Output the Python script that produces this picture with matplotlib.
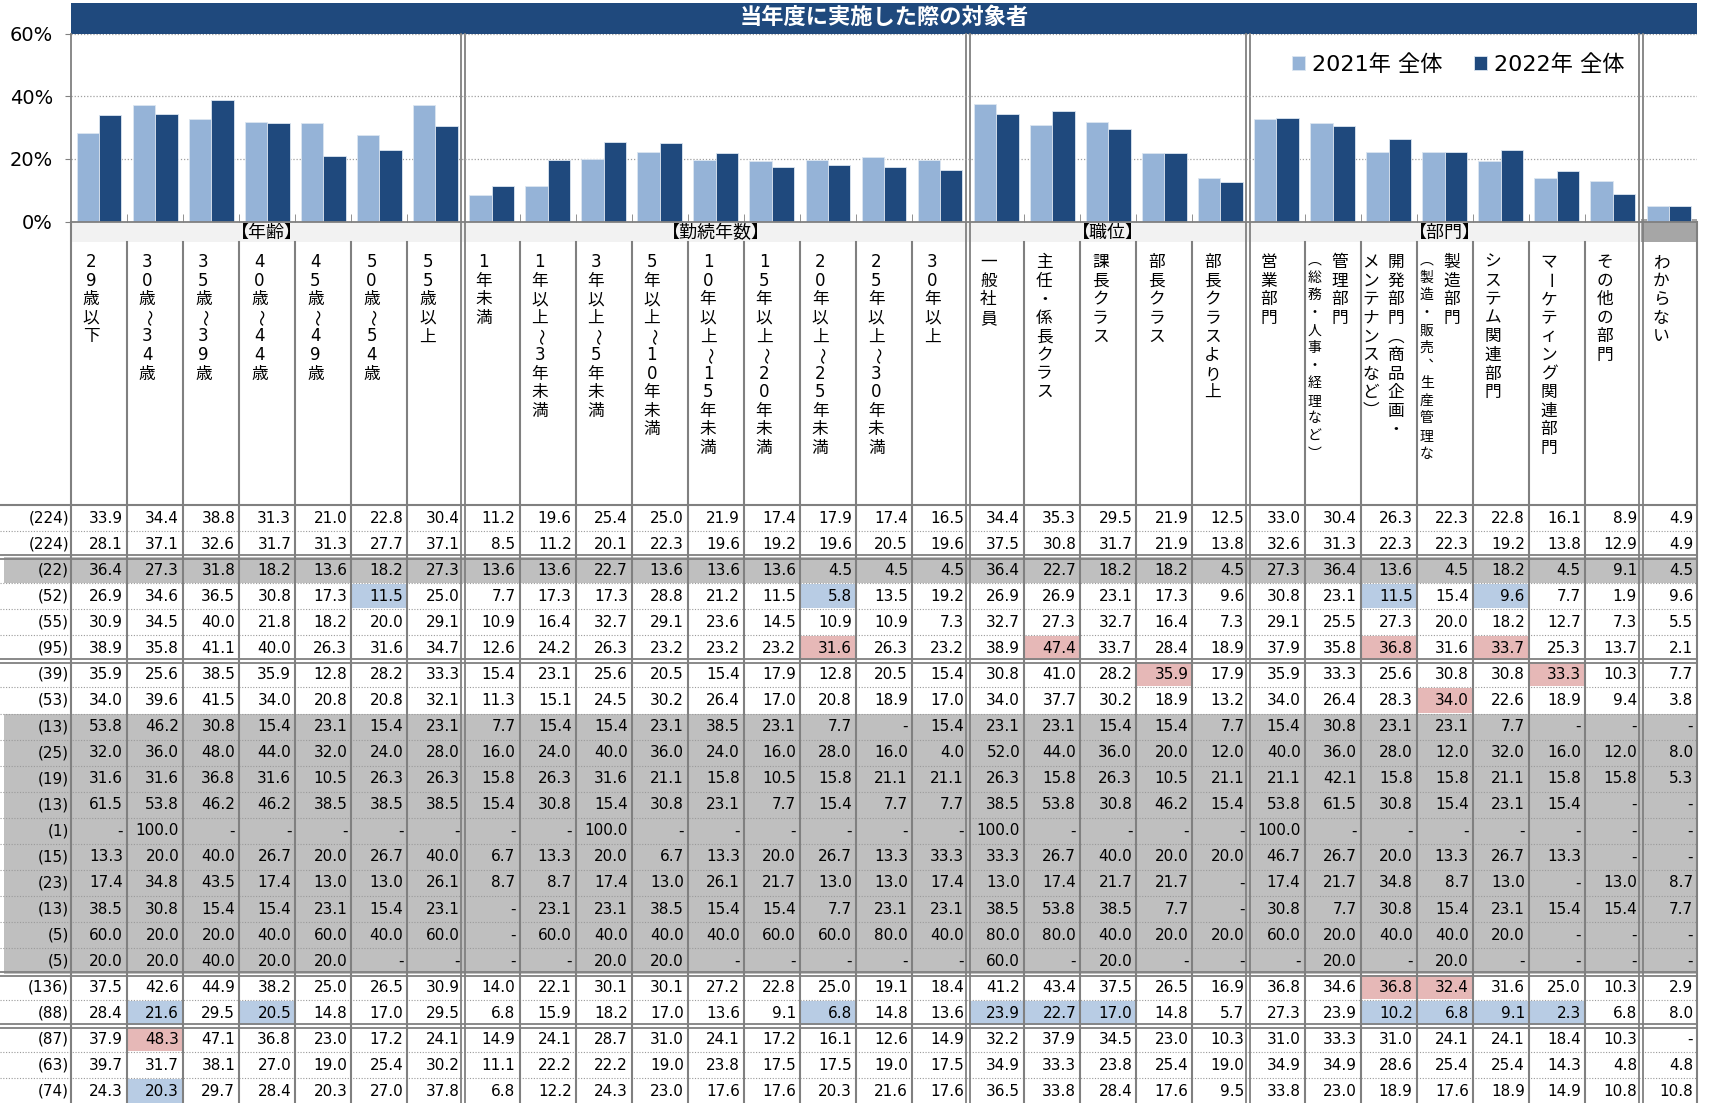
"""当年度に実施した際の対象者: bars on top, cross table below"""

import numpy as np
import matplotlib.pyplot as plt
from matplotlib.patches import Rectangle

plt.rcParams['font.family'] = ['DejaVu Sans', 'Noto Sans CJK JP']

_ = None  # shown as "-" in the table

title = '当年度に実施した際の対象者'
group_names = ['【年齢】', '【勤続年数】', '【職位】', '【部門】', '']
group_sizes = [7, 9, 5, 7, 1]
col_labels = [
    ['29歳以下'], ['30歳～34歳'], ['35歳～39歳'], ['40歳～44歳'], ['45歳～49歳'],
    ['50歳～54歳'], ['55歳以上'],
    ['1年未満'], ['1年以上～3年未満'], ['3年以上～5年未満'], ['5年以上～10年未満'],
    ['10年以上～15年未満'], ['15年以上～20年未満'], ['20年以上～25年未満'],
    ['25年以上～30年未満'], ['30年以上'],
    ['一般社員'], ['主任・係長クラス'], ['課長クラス'], ['部長クラス'], ['部長クラスより上'],
    ['営業部門'], ['管理部門', '（総務・人事・経理など）'], ['開発部門（商品企画・', 'メンテナンスなど）'],
    ['製造部門', '（製造・販売、生産管理な'], ['システム関連部門'], ['マーケティング関連部門'],
    ['その他の部門'],
    ['わからない'],
]
legend_labels = ['2021年 全体', '2022年 全体']

pct_2022 = [33.9, 34.4, 38.8, 31.3, 21.0, 22.8, 30.4, 11.2, 19.6, 25.4, 25.0, 21.9, 17.4, 17.9, 17.4,
            16.5, 34.4, 35.3, 29.5, 21.9, 12.5, 33.0, 30.4, 26.3, 22.3, 22.8, 16.1, 8.9, 4.9]
pct_2021 = [28.1, 37.1, 32.6, 31.7, 31.3, 27.7, 37.1, 8.5, 11.2, 20.1, 22.3, 19.6, 19.2, 19.6, 20.5,
            19.6, 37.5, 30.8, 31.7, 21.9, 13.8, 32.6, 31.3, 22.3, 22.3, 19.2, 13.8, 12.9, 4.9]

n_labels = ['(224)', '(224)', '(22)', '(52)', '(55)', '(95)', '(39)', '(53)', '(13)', '(25)', '(19)',
            '(13)', '(1)', '(15)', '(23)', '(13)', '(5)', '(5)', '(136)', '(88)', '(87)', '(63)', '(74)']

table_rows = [
    pct_2022,
    pct_2021,
    [36.4, 27.3, 31.8, 18.2, 13.6, 18.2, 27.3, 13.6, 13.6, 22.7, 13.6, 13.6, 13.6, 4.5, 4.5, 4.5,
     36.4, 22.7, 18.2, 18.2, 4.5, 27.3, 36.4, 13.6, 4.5, 18.2, 4.5, 9.1, 4.5],
    [26.9, 34.6, 36.5, 30.8, 17.3, 11.5, 25.0, 7.7, 17.3, 17.3, 28.8, 21.2, 11.5, 5.8, 13.5, 19.2,
     26.9, 26.9, 23.1, 17.3, 9.6, 30.8, 23.1, 11.5, 15.4, 9.6, 7.7, 1.9, 9.6],
    [30.9, 34.5, 40.0, 21.8, 18.2, 20.0, 29.1, 10.9, 16.4, 32.7, 29.1, 23.6, 14.5, 10.9, 10.9, 7.3,
     32.7, 27.3, 32.7, 16.4, 7.3, 29.1, 25.5, 27.3, 20.0, 18.2, 12.7, 7.3, 5.5],
    [38.9, 35.8, 41.1, 40.0, 26.3, 31.6, 34.7, 12.6, 24.2, 26.3, 23.2, 23.2, 23.2, 31.6, 26.3, 23.2,
     38.9, 47.4, 33.7, 28.4, 18.9, 37.9, 35.8, 36.8, 31.6, 33.7, 25.3, 13.7, 2.1],
    [35.9, 25.6, 38.5, 35.9, 12.8, 28.2, 33.3, 15.4, 23.1, 25.6, 20.5, 15.4, 17.9, 12.8, 20.5, 15.4,
     30.8, 41.0, 28.2, 35.9, 17.9, 35.9, 33.3, 25.6, 30.8, 30.8, 33.3, 10.3, 7.7],
    [34.0, 39.6, 41.5, 34.0, 20.8, 20.8, 32.1, 11.3, 15.1, 24.5, 30.2, 26.4, 17.0, 20.8, 18.9, 17.0,
     34.0, 37.7, 30.2, 18.9, 13.2, 34.0, 26.4, 28.3, 34.0, 22.6, 18.9, 9.4, 3.8],
    [53.8, 46.2, 30.8, 15.4, 23.1, 15.4, 23.1, 7.7, 15.4, 15.4, 23.1, 38.5, 23.1, 7.7, _, 15.4,
     23.1, 23.1, 15.4, 15.4, 7.7, 15.4, 30.8, 23.1, 23.1, 7.7, _, _, _],
    [32.0, 36.0, 48.0, 44.0, 32.0, 24.0, 28.0, 16.0, 24.0, 40.0, 36.0, 24.0, 16.0, 28.0, 16.0, 4.0,
     52.0, 44.0, 36.0, 20.0, 12.0, 40.0, 36.0, 28.0, 12.0, 32.0, 16.0, 12.0, 8.0],
    [31.6, 31.6, 36.8, 31.6, 10.5, 26.3, 26.3, 15.8, 26.3, 31.6, 21.1, 15.8, 10.5, 15.8, 21.1, 21.1,
     26.3, 15.8, 26.3, 10.5, 21.1, 21.1, 42.1, 15.8, 15.8, 21.1, 15.8, 15.8, 5.3],
    [61.5, 53.8, 46.2, 46.2, 38.5, 38.5, 38.5, 15.4, 30.8, 15.4, 30.8, 23.1, 7.7, 15.4, 7.7, 7.7,
     38.5, 53.8, 30.8, 46.2, 15.4, 53.8, 61.5, 30.8, 15.4, 23.1, 15.4, _, _],
    [_, 100.0, _, _, _, _, _, _, _, 100.0, _, _, _, _, _, _,
     100.0, _, _, _, _, 100.0, _, _, _, _, _, _, _],
    [13.3, 20.0, 40.0, 26.7, 20.0, 26.7, 40.0, 6.7, 13.3, 20.0, 6.7, 13.3, 20.0, 26.7, 13.3, 33.3,
     33.3, 26.7, 40.0, 20.0, 20.0, 46.7, 26.7, 20.0, 13.3, 26.7, 13.3, _, _],
    [17.4, 34.8, 43.5, 17.4, 13.0, 13.0, 26.1, 8.7, 8.7, 17.4, 13.0, 26.1, 21.7, 13.0, 13.0, 17.4,
     13.0, 17.4, 21.7, 21.7, _, 17.4, 21.7, 34.8, 8.7, 13.0, _, 13.0, 8.7],
    [38.5, 30.8, 15.4, 15.4, 23.1, 15.4, 23.1, _, 23.1, 23.1, 38.5, 15.4, 15.4, 7.7, 23.1, 23.1,
     38.5, 53.8, 38.5, 7.7, _, 30.8, 7.7, 30.8, 15.4, 23.1, 15.4, 15.4, 7.7],
    [60.0, 20.0, 20.0, 40.0, 60.0, 40.0, 60.0, _, 60.0, 40.0, 40.0, 40.0, 60.0, 60.0, 80.0, 40.0,
     80.0, 80.0, 40.0, 20.0, 20.0, 60.0, 20.0, 40.0, 40.0, 20.0, _, _, _],
    [20.0, 20.0, 40.0, 20.0, 20.0, _, _, _, _, 20.0, 20.0, _, _, _, _, _,
     60.0, _, 20.0, _, _, _, 20.0, _, 20.0, _, _, _, _],
    [37.5, 42.6, 44.9, 38.2, 25.0, 26.5, 30.9, 14.0, 22.1, 30.1, 30.1, 27.2, 22.8, 25.0, 19.1, 18.4,
     41.2, 43.4, 37.5, 26.5, 16.9, 36.8, 34.6, 36.8, 32.4, 31.6, 25.0, 10.3, 2.9],
    [28.4, 21.6, 29.5, 20.5, 14.8, 17.0, 29.5, 6.8, 15.9, 18.2, 17.0, 13.6, 9.1, 6.8, 14.8, 13.6,
     23.9, 22.7, 17.0, 14.8, 5.7, 27.3, 23.9, 10.2, 6.8, 9.1, 2.3, 6.8, 8.0],
    [37.9, 48.3, 47.1, 36.8, 23.0, 17.2, 24.1, 14.9, 24.1, 28.7, 31.0, 24.1, 17.2, 16.1, 12.6, 14.9,
     32.2, 37.9, 34.5, 23.0, 10.3, 31.0, 33.3, 31.0, 24.1, 24.1, 18.4, 10.3, _],
    [39.7, 31.7, 38.1, 27.0, 19.0, 25.4, 30.2, 11.1, 22.2, 22.2, 19.0, 23.8, 17.5, 17.5, 19.0, 17.5,
     34.9, 33.3, 23.8, 25.4, 19.0, 34.9, 34.9, 28.6, 25.4, 25.4, 14.3, 4.8, 4.8],
    [24.3, 20.3, 29.7, 28.4, 20.3, 27.0, 37.8, 6.8, 12.2, 24.3, 23.0, 17.6, 17.6, 20.3, 21.6, 17.6,
     36.5, 33.8, 28.4, 17.6, 9.5, 33.8, 23.0, 18.9, 17.6, 18.9, 14.9, 10.8, 10.8],
]

gray_rows = [2, 8, 9, 10, 11, 12, 13, 14, 15, 16, 17]
double_after = [2, 6, 18, 20]
# (row, column, b=low / r=high)
highlights = [(3, 5, 'b'), (3, 13, 'b'), (3, 23, 'b'), (3, 25, 'b'),
              (5, 13, 'r'), (5, 17, 'r'), (5, 23, 'r'), (5, 25, 'r'),
              (6, 19, 'r'), (6, 26, 'r'), (7, 24, 'r'),
              (18, 23, 'r'), (18, 24, 'r'),
              (19, 1, 'b'), (19, 3, 'b'), (19, 13, 'b'), (19, 16, 'b'), (19, 17, 'b'),
              (19, 18, 'b'), (19, 23, 'b'), (19, 24, 'b'), (19, 25, 'b'), (19, 26, 'b'),
              (20, 1, 'r'), (22, 1, 'b')]

# layout in pixels (figure is 1710 x 1103)
W, H = 1710, 1103
X0, X1 = 71, 1697
NCOL = len(col_labels)
CW = (X1 - X0) / NCOL
Y_TOP, Y_ZERO, BAND_B = 33.5, 221.5, 242
TBL_TOP = 505
RH = (H + 1.5 - TBL_TOP) / len(table_rows)
LINE = '#808080'
LIGHT, DARK = '#95b3d7', '#1f497d'
HL = {'b': '#b8cce4', 'r': '#e6b8b7'}
VERTICAL_FORMS = {'（': '︵', '）': '︶', '、': '︑'}

fig = plt.figure(figsize=(W / 100, H / 100), dpi=100)
ov = fig.add_axes([0, 0, 1, 1])
ov.set_xlim(0, W)
ov.set_ylim(H, 0)
ov.axis('off')

# title bar
ov.add_patch(Rectangle((X0, 3), X1 - X0, Y_TOP - 3, color=DARK, lw=0))
ov.text((X0 + X1) / 2, 17.5, title, color='white', fontsize=16, fontweight='bold',
        ha='center', va='center', family='Noto Sans CJK JP')

# group band
bounds = np.cumsum([0] + group_sizes)
for g, name in enumerate(group_names):
    gx0, gx1 = X0 + bounds[g] * CW, X0 + bounds[g + 1] * CW
    fc = '#f2f2f2' if name else '#a6a6a6'
    ov.add_patch(Rectangle((gx0, Y_ZERO - (0 if name else 3)), gx1 - gx0,
                           BAND_B - Y_ZERO + (0 if name else 3), color=fc, lw=0))
    if name:
        ov.text((gx0 + gx1) / 2, (Y_ZERO + BAND_B) / 2 + 1, name, fontsize=13,
                ha='center', va='center', family='Noto Sans CJK JP')


def vtext(x, y0, s, size, step):
    # stacked characters, as in vertical writing
    for k, ch in enumerate(s):
        rot = -90 if ch in '～ー' else 0
        ov.text(x, y0 + k * step, VERTICAL_FORMS.get(ch, ch), fontsize=size, rotation=rot,
                ha='center', va='center')


for c, lines in enumerate(col_labels):
    left = X0 + c * CW
    if len(lines) == 1:
        vtext(left + 0.36 * CW, 262, lines[0], 12, 18.6)
    else:
        vtext(left + 0.63 * CW, 262, lines[0], 12, 18.6)
        small = lines[1].startswith('（')
        vtext(left + 0.18 * CW, 260 if small else 262, lines[1],
              10 if small else 12, 17.6 if small else 18.6)

# table fills
for r in gray_rows:
    ov.add_patch(Rectangle((4, TBL_TOP + r * RH), X1 - 4, RH, color='#bfbfbf', lw=0, zorder=0))
for r, c, k in highlights:
    ov.add_patch(Rectangle((X0 + c * CW + 1, TBL_TOP + r * RH + 1), CW - 2, RH - 2,
                           color=HL[k], lw=0, zorder=0.5))

# table values
for r, row in enumerate(table_rows):
    yc = TBL_TOP + (r + 0.5) * RH
    ov.text(69, yc, n_labels[r], ha='right', va='center', fontsize=11)
    for c, v in enumerate(row):
        s = '-' if v is None else f'{v:.1f}'
        ov.text(X0 + (c + 1) * CW - 4, yc, s, ha='right', va='center', fontsize=11)

# horizontal rules
ov.plot([0, X1], [TBL_TOP, TBL_TOP], color=LINE, lw=1.5)
for i in range(1, len(table_rows)):
    y = TBL_TOP + i * RH
    if i in double_after:
        for d in (-2, 2):
            ov.plot([0, X1], [y + d, y + d], color=LINE, lw=1.3)
    else:
        ov.plot([0, X1], [y, y], color='#9a9a9a', lw=0.8, ls=(0, (1, 1.5)))

# vertical rules
for c in range(NCOL + 1):
    x = X0 + c * CW
    if c in bounds[1:-1]:
        for d in (-2, 2):
            ov.plot([x + d, x + d], [Y_TOP, H], color=LINE, lw=1.3)
    elif c in (0, NCOL):
        ov.plot([x, x], [Y_ZERO, H], color=LINE, lw=1.5)
    else:
        ov.plot([x, x], [BAND_B, H], color=LINE, lw=1.5)

# bar chart
ax = fig.add_axes([X0 / W, 1 - Y_ZERO / H, (X1 - X0) / W, (Y_ZERO - Y_TOP) / H])
ax.set_facecolor('none')
x = np.arange(NCOL)
b21 = ax.bar(x - 0.2, pct_2021, 0.4, color=LIGHT, edgecolor='#dce6f1', lw=0.6)
b22 = ax.bar(x + 0.2, pct_2022, 0.4, color=DARK, edgecolor='#dce6f1', lw=0.6)
ax.set_xlim(-0.5, NCOL - 0.5)
ax.set_ylim(0, 60)
ax.set_yticks([0, 20, 40, 60], ['0%', '20%', '40%', '60%'])
ax.tick_params(axis='y', length=4, color=LINE, pad=9, labelsize=14)
ax.set_xticks([])
ax.set_xticks([i + 0.5 for i in range(NCOL - 1) if i + 1 not in bounds], minor=True)
ax.tick_params(axis='x', which='minor', direction='in', length=6, color=LINE)
ax.grid(axis='y', ls=(0, (1, 1.5)), color='#a0a0a0', lw=0.9)
ax.set_axisbelow(True)
for s in ('top', 'right'):
    ax.spines[s].set_visible(False)
for s in ('left', 'bottom'):
    ax.spines[s].set_color(LINE)
    ax.spines[s].set_linewidth(1.3)
ax.legend([b21, b22], legend_labels, loc='center', bbox_to_anchor=(0.853, 0.834), ncol=2,
          frameon=False, fontsize=16, handlelength=0.6, handleheight=0.6,
          handletextpad=0.3, columnspacing=1.4)

fig.savefig('out.png', dpi=100)
